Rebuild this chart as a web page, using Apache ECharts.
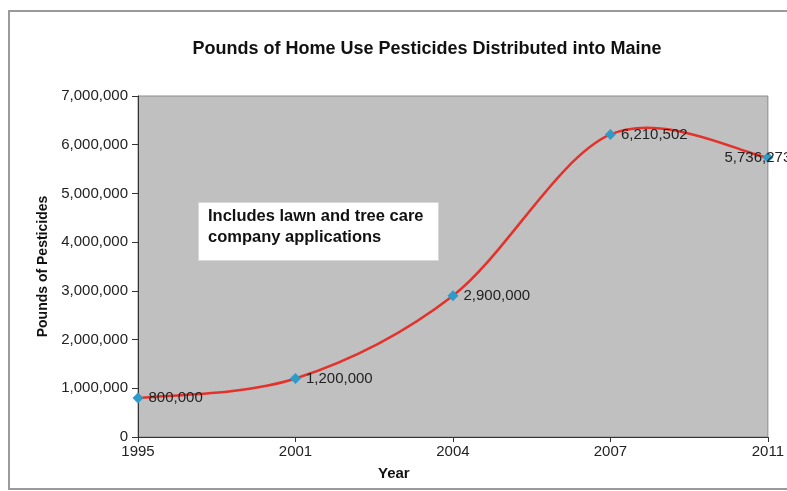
<!DOCTYPE html>
<html>
<head>
<meta charset="utf-8">
<script src="https://cdn.jsdelivr.net/npm/echarts@6/dist/echarts.min.js"></script>
<style>
  html, body { margin: 0; padding: 0; background: #fff; }
  #chart { width: 787px; height: 491px; }
</style>
</head>
<body>
<div id="chart"></div>
<script>
// data
const years = ['1995', '2001', '2004', '2007', '2011']
const pounds = [800000, 1200000, 2900000, 6210502, 5736273]
const yTicks = { min: 0, max: 7000000, interval: 1000000 }

const fmt = (v) => Number(v).toLocaleString('en-US')

const chart = echarts.init(document.getElementById('chart'))

// last label sits over its point, like the reference
const pointData = pounds.map((v, i) => {
  if (i === pounds.length - 1) {
    return { value: [i, v], label: { position: 'inside', offset: [-10, 0] } }
  }
  return [i, v]
})

// Excel-style smoothed line: cardinal spline through the points (via axis coords)
const renderCurve = (params, api) => {
  if (params.dataIndex !== 0) return null
  const pts = pounds.map((v, i) => api.coord([i, v]))
  const n = pts.length
  let d = 'M' + pts[0][0] + ',' + pts[0][1]
  for (let i = 0; i < n - 1; i++) {
    const p0 = pts[Math.max(i - 1, 0)]
    const p1 = pts[i]
    const p2 = pts[i + 1]
    const p3 = pts[Math.min(i + 2, n - 1)]
    const c1x = p1[0] + (p2[0] - p0[0]) / 6
    const c1y = p1[1] + (p2[1] - p0[1]) / 6
    const c2x = p2[0] - (p3[0] - p1[0]) / 6
    const c2y = p2[1] - (p3[1] - p1[1]) / 6
    d += ' C' + c1x + ',' + c1y + ' ' + c2x + ',' + c2y + ' ' + p2[0] + ',' + p2[1]
  }
  return {
    type: 'path',
    shape: { pathData: d },
    style: { fill: 'none', stroke: '#e3322b', lineWidth: 2.5 }
  }
}

const option = {
  backgroundColor: '#fff',
  animation: false,
  textStyle: { fontFamily: 'Liberation Sans, Arial, sans-serif' },
  title: {
    text: 'Pounds of Home Use Pesticides Distributed into Maine',
    left: 422,
    top: 35,
    textAlign: 'center',
    textStyle: { fontSize: 18, fontWeight: 'bold', color: '#111' }
  },
  grid: {
    left: 138,
    right: 16,
    top: 96,
    bottom: 54,
    show: true,
    backgroundColor: '#c0c0c0',
    borderColor: '#8a8a8a',
    borderWidth: 1
  },
  xAxis: {
    type: 'category',
    data: years,
    boundaryGap: false,
    axisLine: { lineStyle: { color: '#333', width: 1 } },
    axisTick: { show: true, length: 5, lineStyle: { color: '#333' } },
    axisLabel: { fontSize: 15, color: '#222', margin: 7, showMaxLabel: true }
  },
  yAxis: {
    type: 'value',
    min: yTicks.min,
    max: yTicks.max,
    interval: yTicks.interval,
    name: 'Pounds of Pesticides',
    nameLocation: 'middle',
    nameGap: 88,
    nameTextStyle: { fontSize: 14, fontWeight: 'bold', color: '#111' },
    axisLine: { show: true, lineStyle: { color: '#333', width: 1 } },
    axisTick: { show: true, length: 6, lineStyle: { color: '#333' } },
    splitLine: { show: false },
    axisLabel: { fontSize: 15, color: '#222', margin: 10, formatter: fmt }
  },
  series: [
    {
      type: 'custom',
      renderItem: renderCurve,
      data: pounds.map((v, i) => [i, v]),
      clip: false,
      silent: true,
      z: 2
    },
    {
      type: 'scatter',
      data: pointData,
      symbol: 'diamond',
      symbolSize: 11,
      itemStyle: { color: '#2f9bc9', opacity: 1 },
      label: {
        show: true,
        position: 'right',
        distance: 5,
        fontSize: 15,
        color: '#222',
        formatter: (p) => fmt(p.value[1])
      },
      z: 3
    }
  ],
  graphic: [
    {
      type: 'rect',
      left: 8,
      top: 10,
      shape: { width: 800, height: 478 },
      style: { fill: 'transparent', stroke: '#9a9a9a', lineWidth: 2 },
      silent: true,
      z: -1
    },
    {
      type: 'rect',
      left: 198,
      top: 202,
      shape: { width: 240, height: 58 },
      style: { fill: '#fff', stroke: '#d8d8d8', lineWidth: 1 },
      z: 10
    },
    {
      type: 'text',
      left: 208,
      top: 206,
      style: {
        text: 'Includes lawn and tree care\ncompany applications',
        font: 'bold 16.5px "Liberation Sans", Arial, sans-serif',
        lineHeight: 21,
        fill: '#111'
      },
      z: 11
    },
    {
      type: 'text',
      left: 378,
      top: 466,
      style: {
        text: 'Year',
        font: 'bold 15px "Liberation Sans", Arial, sans-serif',
        fill: '#111'
      }
    }
  ]
}

chart.setOption(option)
window.addEventListener('resize', () => chart.resize())
</script>
</body>
</html>
